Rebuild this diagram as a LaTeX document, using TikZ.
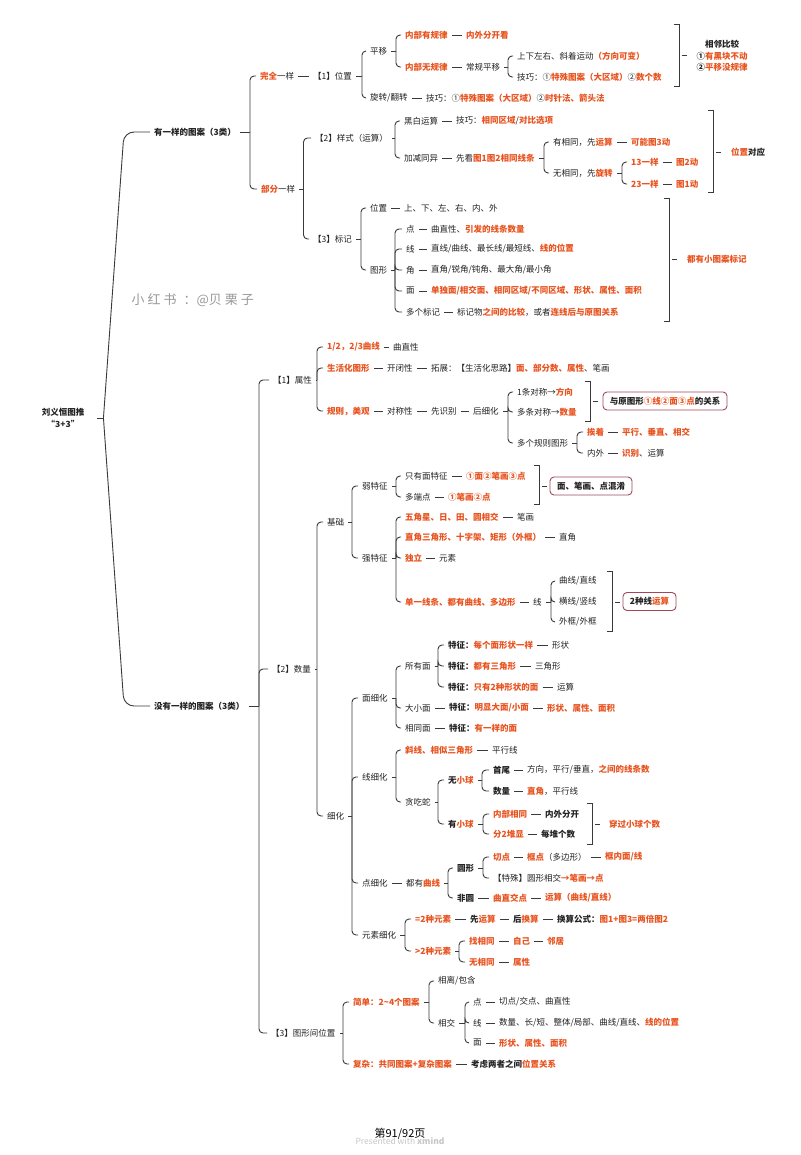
\documentclass[tikz,border=0pt]{standalone}
\usepackage{fontspec}
\setmainfont{Noto Sans CJK SC}
\definecolor{or}{HTML}{E8531F}
\definecolor{txt}{HTML}{222222}
\definecolor{lc}{HTML}{3A3A3A}
\definecolor{boxc}{HTML}{A3485C}
\newcommand\fs{\fontsize{8.5}{11.5}\selectfont}
\newcommand\oc[1]{{\bfseries\color{or}#1}}
\newcommand\bk[1]{{\bfseries #1}}
\newcommand\N[4]{\node[t] (#1) at (#2-4,#3) {#4};}
\newcommand\lk[2]{\draw[ln] (#1.east) -- (#2.west);}
\newcommand\fork[4]{\draw[ln] (#1.east) -- (#2,#3); \foreach \kid in {#4}{\draw[rc] (#2,#3) |- (\kid.west);}}
\newcommand\rbr[4]{\draw[ln] (#1-5,#2) -- (#1,#2) -- (#1,#3) -- (#1-5,#3); \draw[ln] (#1+3,#4) -- (#1+8,#4);}
\tikzset{
 t/.style={anchor=west, inner xsep=4pt, inner ysep=1pt, font=\fs, text=txt},
 ln/.style={draw=lc, line width=0.9pt},
 rc/.style={ln, rounded corners=4pt},
 bx/.style={draw=boxc, line width=0.9pt, rounded corners=4pt, fill=white, inner xsep=5pt, minimum height=18pt, font=\fs, text=txt, anchor=center},
}
\begin{document}
\begin{tikzpicture}[x=1pt,y=-1pt]
\useasboundingbox (0,0) rectangle (800,1155);
\fill[white] (0,0) rectangle (800,1155);

% watermark
\node[anchor=west, text=black!40, font=\fontsize{13}{13}\selectfont] (wm) at (128,300) {小\hspace{3pt}红\hspace{3pt}书\hspace{7pt}：@贝\hspace{3pt}栗\hspace{3pt}子};

% root
\node[t, anchor=center, align=center, font=\fs\bfseries] (root) at (63,418) {刘义恒图推\\“3+3”};
\N{L1a}{154}{132}{\bk{有一样的图案（3类）}}
\N{L1b}{154}{706}{\bk{没有一样的图案（3类）}}
\draw[ln] ([xshift=9pt]root.east) -- ++(6,0) coordinate (rj);
\draw[ln, rounded corners=10pt] (rj) -- (124,132) -- (L1a.west);
\draw[ln, rounded corners=10pt] (rj) -- (124,706) -- (L1b.west);

% ===== 有一样的图案 =====
\N{wq}{260}{76}{\oc{完全}一样}
\N{bf}{261}{189}{\oc{部分}一样}
\fork{L1a}{250}{132}{wq,bf}

\N{p1}{313}{76}{【1】位置}
\lk{wq}{p1}
\N{py}{370}{51}{平移}
\N{xz}{370}{98}{旋转/翻转}
\fork{p1}{362}{76}{py,xz}
\N{a1}{405}{35}{\oc{内部有规律}}
\N{a1b}{466}{35}{\oc{内外分开看}}
\lk{a1}{a1b}
\N{a2}{405}{67}{\oc{内部无规律}}
\N{a2b}{466}{67}{常规平移}
\lk{a2}{a2b}
\fork{py}{396}{51}{a1,a2}
\N{a3}{517}{56}{上下左右、斜着运动\oc{（方向可变）}}
\N{a4}{517}{77}{技巧：①\oc{特殊图案（大区域）}②\oc{数个数}}
\fork{a2b}{508}{67}{a3,a4}
\N{xzb}{426}{98}{技巧：①\oc{特殊图案（大区域）}②\oc{时针法、箭头法}}
\lk{xz}{xzb}
\rbr{679}{24}{86}{55}
\node[t, anchor=center, align=center] (s1) at (722,56) {\bk{相邻比较}\\\bk{①}\oc{有黑块不动}\\\bk{②}\oc{平移没规律}};

\N{p2}{315}{138}{【2】样式（运算）}
\N{p3}{313}{239}{【3】标记}
\fork{bf}{303.5}{189}{p2,p3}
\N{b1}{404}{121}{黑白运算}
\N{b1b}{456}{121}{技巧：\oc{相同区域}/\oc{对比选项}}
\lk{b1}{b1b}
\N{b2}{404}{158}{加减同异}
\N{b2b}{456}{158}{先看\oc{图1图2相同线条}}
\lk{b2}{b2b}
\fork{p2}{395}{138}{b1,b2}
\N{b3}{553}{142}{有相同，先\oc{运算}}
\N{b3b}{631}{142}{\oc{可能图3动}}
\lk{b3}{b3b}
\N{b4}{553}{173}{无相同，先\oc{旋转}}
\fork{b2b}{544}{158}{b3,b4}
\N{b5}{631}{162}{\oc{13一样}}
\N{b5b}{676}{162}{\oc{图2动}}
\lk{b5}{b5b}
\N{b6}{631}{184}{\oc{23一样}}
\N{b6b}{676}{184}{\oc{图1动}}
\lk{b6}{b6b}
\fork{b4}{622}{173}{b5,b6}
\rbr{713}{110}{192}{152}
\N{s2}{731}{152}{\oc{位置}\bk{对应}}

\N{c1}{370}{208}{位置}
\N{c1b}{404}{208}{上、下、左、右、内、外}
\lk{c1}{c1b}
\N{c2}{370}{270}{图形}
\fork{p3}{361}{239}{c1,c2}
\N{d1}{406}{229}{点}
\N{d1b}{431}{229}{曲直性、\oc{引发的线条数量}}
\lk{d1}{d1b}
\N{d2}{406}{249}{线}
\N{d2b}{431}{249}{直线/曲线、最长线/最短线、\oc{线的位置}}
\lk{d2}{d2b}
\N{d3}{406}{270}{角}
\N{d3b}{431}{270}{直角/锐角/钝角、最大角/最小角}
\lk{d3}{d3b}
\N{d4}{406}{291}{面}
\N{d4b}{431}{291}{\oc{单独面/相交面、相同区域/不同区域、形状、属性、面积}}
\lk{d4}{d4b}
\N{d5}{406}{312}{多个标记}
\N{d5b}{457}{312}{标记物\oc{之间的比较}，或者\oc{连线后与原图关系}}
\lk{d5}{d5b}
\fork{c2}{395}{270}{d1,d2,d3,d4,d5}
\rbr{669}{198}{321}{259}
\N{s3}{687}{259}{\oc{都有小图案标记}}

% ===== 没有一样的图案 =====
\N{q1}{273}{380}{【1】属性}
\N{q2}{272}{669}{【2】数量}
\N{q3}{271}{1033}{【3】图形间位置}
\fork{L1b}{259}{706}{q1,q2,q3}

\N{e1}{327}{347}{\oc{1/2，2/3曲线}}
\N{e1b}{393}{347}{曲直性}
\lk{e1}{e1b}
\N{e2}{327}{368}{\oc{生活化图形}}
\N{e2b}{387}{368}{开闭性}
\N{e2c}{431}{368}{拓展：【生活化思路】\oc{面、部分数、属性}、笔画}
\lk{e2}{e2b}
\lk{e2b}{e2c}
\N{e3}{327}{411}{\oc{规则，美观}}
\N{e3b}{387}{411}{对称性}
\N{e3c}{431}{411}{先识别}
\N{e3d}{473}{411}{后细化}
\lk{e3}{e3b}
\lk{e3b}{e3c}
\lk{e3c}{e3d}
\fork{q1}{317}{380}{e1,e2,e3}
\N{f1}{517}{392}{1条对称→\oc{方向}}
\N{f2}{517}{412}{多条对称→\oc{数量}}
\N{f3}{517}{443}{多个规则图形}
\fork{e3d}{508}{411}{f1,f2,f3}
\N{f4}{587}{432}{\oc{挨着}}
\N{f4b}{622}{432}{\oc{平行、垂直、相交}}
\lk{f4}{f4b}
\N{f5}{587}{453}{内外}
\N{f5b}{622}{453}{\oc{识别}、运算}
\lk{f5}{f5b}
\fork{f3}{577}{443}{f4,f5}
\rbr{590}{381}{421}{401}
\node[bx, minimum width=124pt] (bx1) at (665,401) {\bk{与原图形}\oc{①线②面③点}\bk{的关系}};

\N{g1}{327}{522}{基础}
\N{g2}{327}{816}{细化}
\fork{q2}{317}{669}{g1,g2}
\N{h1}{362}{486}{弱特征}
\N{h2}{362}{558}{强特征}
\fork{g1}{352}{522}{h1,h2}
\N{i1}{405}{476}{只有面特征}
\N{i1b}{466}{476}{\oc{①面②笔画③点}}
\lk{i1}{i1b}
\N{i2}{405}{497}{多端点}
\N{i2b}{448}{497}{\oc{①笔画②点}}
\lk{i2}{i2b}
\fork{h1}{396}{486}{i1,i2}
\rbr{539}{465}{504}{486}
\node[bx, minimum width=82pt] (bx2) at (591,486) {\bk{面、笔画、点混淆}};
\N{j1}{405}{517}{\oc{五角星、日、田、圆相交}}
\N{j1b}{517}{517}{笔画}
\lk{j1}{j1b}
\N{j2}{405}{537}{\oc{直角三角形、十字架、矩形（外框）}}
\N{j2b}{559}{537}{直角}
\lk{j2}{j2b}
\N{j3}{405}{558}{\oc{独立}}
\N{j3b}{439}{558}{元素}
\lk{j3}{j3b}
\N{j4}{405}{602}{\oc{单一线条、都有曲线、多边形}}
\N{j4b}{533}{602}{线}
\lk{j4}{j4b}
\fork{h2}{396}{558}{j1,j2,j3,j4}
\N{k1}{559}{581}{曲线/直线}
\N{k2}{559}{602}{横线/竖线}
\N{k3}{559}{622}{外框/外框}
\fork{j4b}{551}{602}{k1,k2,k3}
\rbr{612}{571}{631}{602}
\node[bx, minimum width=53pt] (bx3) at (649.5,601.5) {\bk{2种线}\oc{运算}};

\N{m1}{362}{698}{面细化}
\N{m2}{362}{777}{线细化}
\N{m3}{362}{883}{点细化}
\N{m4}{362}{935}{元素细化}
\fork{g2}{352}{816}{m1,m2,m3,m4}
\N{n1}{405}{666}{所有面}
\N{n2}{405}{708}{大小面}
\N{n3}{405}{728}{相同面}
\fork{m1}{396}{698}{n1,n2,n3}
\N{o1}{448}{645}{\bk{特征：}\oc{每个面形状一样}}
\N{o1b}{552}{645}{形状}
\lk{o1}{o1b}
\N{o2}{448}{666}{\bk{特征：}\oc{都有三角形}}
\N{o2b}{535}{666}{三角形}
\lk{o2}{o2b}
\N{o3}{448}{687}{\bk{特征：}\oc{只有2种形状的面}}
\N{o3b}{557}{687}{运算}
\lk{o3}{o3b}
\fork{n1}{438}{666}{o1,o2,o3}
\N{n2b}{449}{708}{\bk{特征：}\oc{明显大面/小面}}
\N{n2c}{547}{708}{\oc{形状、属性、面积}}
\lk{n2}{n2b}
\lk{n2b}{n2c}
\N{n3b}{449}{728}{\bk{特征：}\oc{有一样的面}}
\lk{n3}{n3b}

\N{r1}{405}{750}{\oc{斜线、相似三角形}}
\N{r1b}{492}{750}{平行线}
\lk{r1}{r1b}
\N{r2}{405}{802}{贪吃蛇}
\fork{m2}{396}{777}{r1,r2}
\N{u1}{448}{780}{\bk{无}\oc{小球}}
\N{u2}{448}{824}{\bk{有}\oc{小球}}
\fork{r2}{438}{802}{u1,u2}
\N{v1}{493}{770}{\bk{首尾}}
\N{v1b}{527}{770}{方向，平行/垂直，\oc{之间的线条数}}
\lk{v1}{v1b}
\N{v2}{493}{791}{\bk{数量}}
\N{v2b}{527}{791}{\oc{直角}，平行线}
\lk{v2}{v2b}
\fork{u1}{482}{780}{v1,v2}
\N{w1}{493}{814}{\oc{内部相同}}
\N{w1b}{545}{814}{\bk{内外分开}}
\lk{w1}{w1b}
\N{w2}{493}{834}{\oc{分2堆显}}
\N{w2b}{541}{834}{\bk{每堆个数}}
\lk{w2}{w2b}
\fork{u2}{483}{824}{w1,w2}
\rbr{592}{803}{844}{824}
\N{s4}{609}{824}{\oc{穿过小球个数}}

\N{m3b}{406}{883}{都有\oc{曲线}}
\lk{m3}{m3b}
\N{x1}{457}{868}{\bk{圆形}}
\N{x2}{457}{898}{\bk{非圆}}
\fork{m3b}{448}{883}{x1,x2}
\N{y1}{493}{857}{\oc{切点}}
\N{y1b}{527}{857}{\oc{框点}（多边形）}
\N{y1c}{605}{857}{\oc{框内面/线}}
\lk{y1}{y1b}
\lk{y1b}{y1c}
\N{y2}{493}{878}{【特殊】圆形相交\oc{→笔画→点}}
\fork{x1}{483}{868}{y1,y2}
\N{x2b}{493}{898}{\oc{曲直交点}}
\N{x2c}{545}{898}{\oc{运算（曲线/直线）}}
\lk{x2}{x2b}
\lk{x2b}{x2c}

\N{z1}{415}{919}{\oc{=2种元素}}
\N{z1b}{470}{919}{\bk{先}\oc{运算}}
\N{z1c}{513}{919}{\bk{后}\oc{换算}}
\N{z1d}{557}{919}{\bk{换算公式：}\oc{图1+图3=两倍图2}}
\lk{z1}{z1b}
\lk{z1b}{z1c}
\lk{z1c}{z1d}
\N{z2}{415}{951}{\oc{>2种元素}}
\fork{m4}{405}{935}{z1,z2}
\N{aa1}{469}{941}{\oc{找相同}}
\N{aa1b}{513}{941}{\oc{自己}}
\N{aa1c}{547}{941}{\oc{邻居}}
\lk{aa1}{aa1b}
\lk{aa1b}{aa1c}
\N{aa2}{469}{962}{\oc{无相同}}
\N{aa2b}{513}{962}{\oc{属性}}
\lk{aa2}{aa2b}
\fork{z2}{459}{951}{aa1,aa2}

\N{ab1}{353}{1002}{\oc{简单：2\textasciitilde 4个图案}}
\N{ab2}{353}{1064}{\oc{复杂：共同图案+复杂图案}}
\N{ab2b}{471}{1064}{\bk{考虑两者之间}\oc{位置关系}}
\lk{ab2}{ab2b}
\fork{q3}{343}{1033}{ab1,ab2}
\N{ac1}{438}{981}{相离/包含}
\N{ac2}{438}{1023}{相交}
\fork{ab1}{429}{1002}{ac1,ac2}
\N{ad1}{473}{1002}{点}
\N{ad1b}{499}{1002}{切点/交点、曲直性}
\lk{ad1}{ad1b}
\N{ad2}{473}{1023}{线}
\N{ad2b}{499}{1023}{数量、长/短、整体/局部、曲线/直线、\oc{线的位置}}
\lk{ad2}{ad2b}
\N{ad3}{473}{1043}{面}
\N{ad3b}{499}{1043}{\oc{形状、属性、面积}}
\lk{ad3}{ad3b}
\fork{ac2}{465}{1023}{ad1,ad2,ad3}

% footer
\node[font=\fontsize{8.5}{9}\selectfont, text=black!22] (pw) at (400,1141) {Presented with \textbf{xmind}};
\node[font=\fontsize{11}{11}\selectfont, text=black] (pg) at (400,1134) {第91/92页};
\end{tikzpicture}
\end{document}
